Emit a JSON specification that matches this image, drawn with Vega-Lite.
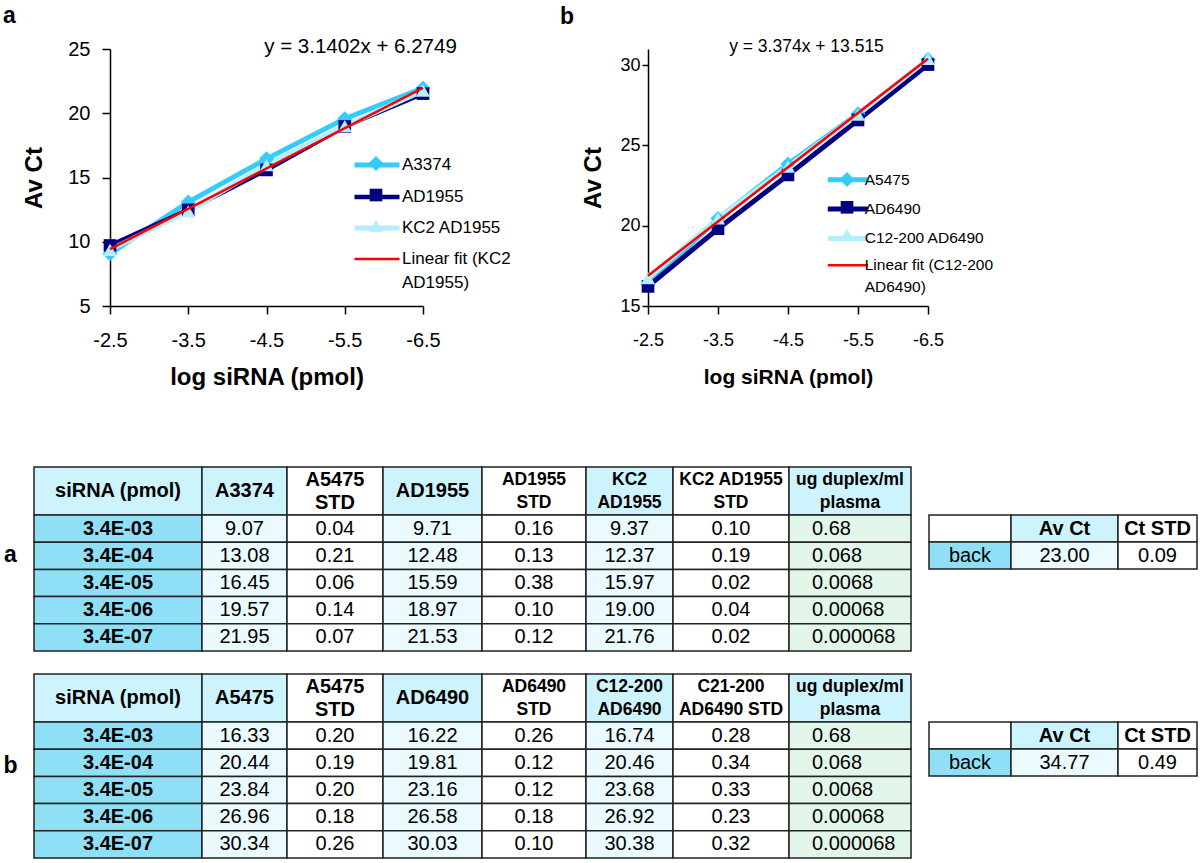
{
"$schema": "https://vega.github.io/schema/vega-lite/v6.json",
"background": "white",
"padding": {"left": 2, "top": 5, "right": 2, "bottom": 2},
"config": {"view": {"stroke": null}, "axis": {"labelColor": "black", "titleColor": "black", "domainColor": "black", "tickColor": "black", "grid": false, "domainWidth": 1.5, "tickWidth": 1.5}},
"datasets": {
 "cA": [
  {"x": -2.5, "series": "A3374", "ct": 9.07}, {"x": -3.5, "series": "A3374", "ct": 13.08}, {"x": -4.5, "series": "A3374", "ct": 16.45}, {"x": -5.5, "series": "A3374", "ct": 19.57}, {"x": -6.5, "series": "A3374", "ct": 21.95},
  {"x": -2.5, "series": "AD1955", "ct": 9.71}, {"x": -3.5, "series": "AD1955", "ct": 12.48}, {"x": -4.5, "series": "AD1955", "ct": 15.59}, {"x": -5.5, "series": "AD1955", "ct": 18.97}, {"x": -6.5, "series": "AD1955", "ct": 21.53},
  {"x": -2.5, "series": "KC2 AD1955", "ct": 9.37}, {"x": -3.5, "series": "KC2 AD1955", "ct": 12.37}, {"x": -4.5, "series": "KC2 AD1955", "ct": 15.97}, {"x": -5.5, "series": "KC2 AD1955", "ct": 19.0}, {"x": -6.5, "series": "KC2 AD1955", "ct": 21.76},
  {"x": -2.5, "series": "Linear fit (KC2 AD1955)", "ct": 9.42}, {"x": -6.5, "series": "Linear fit (KC2 AD1955)", "ct": 21.98}
 ],
 "cB": [
  {"x": -2.5, "series": "A5475", "ct": 16.33}, {"x": -3.5, "series": "A5475", "ct": 20.44}, {"x": -4.5, "series": "A5475", "ct": 23.84}, {"x": -5.5, "series": "A5475", "ct": 26.96}, {"x": -6.5, "series": "A5475", "ct": 30.34},
  {"x": -2.5, "series": "AD6490", "ct": 16.22}, {"x": -3.5, "series": "AD6490", "ct": 19.81}, {"x": -4.5, "series": "AD6490", "ct": 23.16}, {"x": -5.5, "series": "AD6490", "ct": 26.58}, {"x": -6.5, "series": "AD6490", "ct": 30.03},
  {"x": -2.5, "series": "C12-200 AD6490", "ct": 16.74}, {"x": -3.5, "series": "C12-200 AD6490", "ct": 20.46}, {"x": -4.5, "series": "C12-200 AD6490", "ct": 23.68}, {"x": -5.5, "series": "C12-200 AD6490", "ct": 26.92}, {"x": -6.5, "series": "C12-200 AD6490", "ct": 30.38},
  {"x": -2.5, "series": "Linear fit (C12-200 AD6490)", "ct": 16.89}, {"x": -6.5, "series": "Linear fit (C12-200 AD6490)", "ct": 30.39}
 ],
 "tA": [
  {"s": "3.4E-03", "v1": "9.07", "v2": "0.04", "v3": "9.71", "v4": "0.16", "v5": "9.37", "v6": "0.10", "v7": "0.68"},
  {"s": "3.4E-04", "v1": "13.08", "v2": "0.21", "v3": "12.48", "v4": "0.13", "v5": "12.37", "v6": "0.19", "v7": "0.068"},
  {"s": "3.4E-05", "v1": "16.45", "v2": "0.06", "v3": "15.59", "v4": "0.38", "v5": "15.97", "v6": "0.02", "v7": "0.0068"},
  {"s": "3.4E-06", "v1": "19.57", "v2": "0.14", "v3": "18.97", "v4": "0.10", "v5": "19.00", "v6": "0.04", "v7": "0.00068"},
  {"s": "3.4E-07", "v1": "21.95", "v2": "0.07", "v3": "21.53", "v4": "0.12", "v5": "21.76", "v6": "0.02", "v7": "0.000068"}
 ],
 "tB": [
  {"s": "3.4E-03", "v1": "16.33", "v2": "0.20", "v3": "16.22", "v4": "0.26", "v5": "16.74", "v6": "0.28", "v7": "0.68"},
  {"s": "3.4E-04", "v1": "20.44", "v2": "0.19", "v3": "19.81", "v4": "0.12", "v5": "20.46", "v6": "0.34", "v7": "0.068"},
  {"s": "3.4E-05", "v1": "23.84", "v2": "0.20", "v3": "23.16", "v4": "0.12", "v5": "23.68", "v6": "0.33", "v7": "0.0068"},
  {"s": "3.4E-06", "v1": "26.96", "v2": "0.18", "v3": "26.58", "v4": "0.18", "v5": "26.92", "v6": "0.23", "v7": "0.00068"},
  {"s": "3.4E-07", "v1": "30.34", "v2": "0.26", "v3": "30.03", "v4": "0.10", "v5": "30.38", "v6": "0.32", "v7": "0.000068"}
 ],
 "sA": [{"r": "back", "av": "23.00", "sd": "0.09"}],
 "sB": [{"r": "back", "av": "34.77", "sd": "0.49"}]
},
"spacing": 77,
"vconcat": [
 {"hconcat": [
  {"width": 1, "height": 1, "data": {"values": [{"t": ""}]}, "mark": {"type": "text"}, "encoding": {"text": {"field": "t", "type": "nominal"}}},
  {"hconcat": [
  {"width": 313, "height": 257,
   "title": {"text": "a", "anchor": "start", "frame": "group", "dx": -107, "dy": 22, "offset": 12, "baseline": "alphabetic", "font": "Liberation Sans, Arial, sans-serif", "fontSize": 23, "fontWeight": "bold", "color": "black"},
   "data": {"name": "cA"},
   "resolve": {"axis": {"x": "independent"}},
   "encoding": {
    "y": {"field": "ct", "type": "quantitative", "scale": {"domain": [5, 25], "nice": false, "zero": false},
          "axis": {"values": [5, 10, 15, 20, 25], "labelExpr": "'' + datum.value", "title": "Av Ct", "titleFont": "Liberation Sans, Arial, sans-serif", "titleFontSize": 24, "titleFontWeight": "bold", "labelFont": "Liberation Sans, Arial, sans-serif", "labelFontSize": 20, "tickSize": 8, "labelPadding": 12, "titlePadding": 21, "labelFlush": false}}
   },
   "layer": [
    {"transform": [{"filter": "datum.series != 'Linear fit (KC2 AD1955)'"}],
     "mark": {"type": "line"},
     "encoding": {
      "x": {"field": "x", "type": "quantitative", "scale": {"domain": [-6.5, -2.5], "reverse": true, "nice": false, "zero": false},
            "axis": {"values": [-2.5, -3.5, -4.5, -5.5, -6.5], "labelExpr": "'' + datum.value", "title": "log siRNA (pmol)", "titleFont": "Liberation Sans, Arial, sans-serif", "titleFontSize": 24, "titleFontWeight": "bold", "labelFont": "Liberation Sans, Arial, sans-serif", "labelFontSize": 20, "tickSize": 8, "labelPadding": 16, "titlePadding": 15, "labelFlush": false}},
      "color": {"field": "series", "type": "nominal", "scale": {"domain": ["A3374", "AD1955", "KC2 AD1955", "Linear fit (KC2 AD1955)"], "range": ["#33ccff", "#000080", "#b3eefa", "#ff0000"]},
        "legend": {"orient": "none", "legendX": 257, "legendY": 106, "title": null, "padding": 0, "symbolType": "M-3,0L3,0", "symbolSize": 225, "labelFont": "Liberation Sans, Arial, sans-serif", "labelFontSize": 17, "labelColor": "black", "labelOffset": 15, "rowPadding": 12, "labelLimit": 300, "labelExpr": "datum.label == 'Linear fit (KC2 AD1955)' ? ['Linear fit (KC2', 'AD1955)'] : datum.label", "encode": {"labels": {"update": {"lineHeight": {"value": 24}}}}}},
      "strokeWidth": {"field": "series", "type": "nominal", "scale": {"type": "ordinal", "domain": ["A3374", "AD1955", "KC2 AD1955", "Linear fit (KC2 AD1955)"], "range": [5, 4.5, 5, 2.5]},
        "legend": {"orient": "none", "legendX": 257, "legendY": 106, "title": null, "padding": 0, "symbolType": "M-3,0L3,0", "symbolSize": 225, "labelFont": "Liberation Sans, Arial, sans-serif", "labelFontSize": 17, "labelColor": "black", "labelOffset": 15, "rowPadding": 12, "labelLimit": 300, "labelExpr": "datum.label == 'Linear fit (KC2 AD1955)' ? ['Linear fit (KC2', 'AD1955)'] : datum.label", "encode": {"labels": {"update": {"lineHeight": {"value": 24}}}}}}
     }},
    {"mark": {"type": "point", "filled": true, "opacity": 1, "strokeWidth": 0},
     "encoding": {
      "x": {"field": "x", "type": "quantitative", "scale": {"domain": [-6.5, -2.5], "reverse": true, "nice": false, "zero": false}, "axis": null},
      "shape": {"field": "series", "type": "nominal", "scale": {"range": ["diamond", "square", "triangle-up", "circle"]},
        "legend": {"orient": "none", "legendX": 258, "legendY": 106.5, "title": null, "padding": 0, "symbolStrokeWidth": 0, "symbolOpacity": 1, "labelFontSize": 1, "labelOpacity": 0, "labelOffset": 0, "rowPadding": 17, "labelExpr": "''"}},
      "fill": {"field": "series", "type": "nominal", "scale": {"range": ["#33ccff", "#000080", "#b3eefa", "transparent"]},
        "legend": {"orient": "none", "legendX": 258, "legendY": 106.5, "title": null, "padding": 0, "symbolStrokeWidth": 0, "symbolOpacity": 1, "labelFontSize": 1, "labelOpacity": 0, "labelOffset": 0, "rowPadding": 17, "labelExpr": "''"}},
      "size": {"field": "series", "type": "nominal", "scale": {"type": "ordinal", "range": [230, 160, 200, 10]},
        "legend": {"orient": "none", "legendX": 258, "legendY": 106.5, "title": null, "padding": 0, "symbolStrokeWidth": 0, "symbolOpacity": 1, "labelFontSize": 1, "labelOpacity": 0, "labelOffset": 0, "rowPadding": 17, "labelExpr": "''"}}
     }},
    {"transform": [{"filter": "datum.series == 'Linear fit (KC2 AD1955)'"}],
     "mark": {"type": "line"},
     "encoding": {
      "x": {"field": "x", "type": "quantitative", "scale": {"domain": [-6.5, -2.5], "reverse": true, "nice": false, "zero": false},
            "axis": {"orient": "top", "title": "y = 3.1402x + 6.2749", "labels": false, "ticks": false, "domain": false, "grid": false, "titleFont": "Liberation Sans, Arial, sans-serif", "titleFontSize": 20.5, "titleFontWeight": "normal", "titleX": 250, "titleY": -3, "titleAlign": "center", "titleBaseline": "middle", "titleAngle": 0}},
      "color": {"field": "series", "type": "nominal", "scale": {"domain": ["A3374", "AD1955", "KC2 AD1955", "Linear fit (KC2 AD1955)"], "range": ["#33ccff", "#000080", "#b3eefa", "#ff0000"]}},
      "strokeWidth": {"field": "series", "type": "nominal", "scale": {"type": "ordinal", "domain": ["A3374", "AD1955", "KC2 AD1955", "Linear fit (KC2 AD1955)"], "range": [5, 4.5, 5, 2.5]}}
     }}
   ]},
  {"width": 280, "height": 257,
   "title": {"text": "b", "anchor": "start", "frame": "group", "dx": -88, "dy": 22, "offset": 12, "baseline": "alphabetic", "font": "Liberation Sans, Arial, sans-serif", "fontSize": 23, "fontWeight": "bold", "color": "black"},
   "data": {"name": "cB"},
   "resolve": {"axis": {"x": "independent"}},
   "encoding": {
    "y": {"field": "ct", "type": "quantitative", "scale": {"domain": [15, 31], "nice": false, "zero": false},
          "axis": {"values": [15, 20, 25, 30], "labelExpr": "'' + datum.value", "title": "Av Ct", "titleFont": "Liberation Sans, Arial, sans-serif", "titleFontSize": 24, "titleFontWeight": "bold", "labelFont": "Liberation Sans, Arial, sans-serif", "labelFontSize": 18, "tickSize": 6, "labelPadding": 2, "titlePadding": 14, "labelFlush": false}}
   },
   "layer": [
    {"transform": [{"filter": "datum.series != 'Linear fit (C12-200 AD6490)'"}],
     "mark": {"type": "line"},
     "encoding": {
      "x": {"field": "x", "type": "quantitative", "scale": {"domain": [-6.5, -2.5], "reverse": true, "nice": false, "zero": false},
            "axis": {"values": [-2.5, -3.5, -4.5, -5.5, -6.5], "labelExpr": "'' + datum.value", "title": "log siRNA (pmol)", "titleFont": "Liberation Sans, Arial, sans-serif", "titleFontSize": 21, "titleFontWeight": "bold", "labelFont": "Liberation Sans, Arial, sans-serif", "labelFontSize": 18, "tickSize": 8, "labelPadding": 17, "titlePadding": 17, "labelFlush": false}},
      "color": {"field": "series", "type": "nominal", "scale": {"domain": ["A5475", "AD6490", "C12-200 AD6490", "Linear fit (C12-200 AD6490)"], "range": ["#33ccff", "#000080", "#b3eefa", "#ff0000"]},
        "legend": {"orient": "none", "legendX": 190.3, "legendY": 121.3, "title": null, "padding": 0, "symbolType": "M-3,0L3,0", "symbolSize": 178, "labelFont": "Liberation Sans, Arial, sans-serif", "labelFontSize": 15.5, "labelColor": "black", "labelOffset": 7.4, "rowPadding": 8.3, "labelLimit": 300, "labelExpr": "datum.label == 'Linear fit (C12-200 AD6490)' ? ['Linear fit (C12-200', 'AD6490)'] : datum.label", "encode": {"labels": {"update": {"lineHeight": {"value": 22}}}}}},
      "strokeWidth": {"field": "series", "type": "nominal", "scale": {"type": "ordinal", "domain": ["A5475", "AD6490", "C12-200 AD6490", "Linear fit (C12-200 AD6490)"], "range": [5, 5, 5, 2.5]},
        "legend": {"orient": "none", "legendX": 190.3, "legendY": 121.3, "title": null, "padding": 0, "symbolType": "M-3,0L3,0", "symbolSize": 178, "labelFont": "Liberation Sans, Arial, sans-serif", "labelFontSize": 15.5, "labelColor": "black", "labelOffset": 7.4, "rowPadding": 8.3, "labelLimit": 300, "labelExpr": "datum.label == 'Linear fit (C12-200 AD6490)' ? ['Linear fit (C12-200', 'AD6490)'] : datum.label", "encode": {"labels": {"update": {"lineHeight": {"value": 22}}}}}}
     }},
    {"mark": {"type": "point", "filled": true, "opacity": 1, "strokeWidth": 0},
     "encoding": {
      "x": {"field": "x", "type": "quantitative", "scale": {"domain": [-6.5, -2.5], "reverse": true, "nice": false, "zero": false}, "axis": null},
      "shape": {"field": "series", "type": "nominal", "scale": {"range": ["diamond", "square", "triangle-up", "circle"]},
        "legend": {"orient": "none", "legendX": 191, "legendY": 122.5, "title": null, "padding": 0, "symbolStrokeWidth": 0, "symbolOpacity": 1, "labelFontSize": 1, "labelOpacity": 0, "labelOffset": 0, "rowPadding": 13.3, "labelExpr": "''"}},
      "fill": {"field": "series", "type": "nominal", "scale": {"range": ["#33ccff", "#000080", "#b3eefa", "transparent"]},
        "legend": {"orient": "none", "legendX": 191, "legendY": 122.5, "title": null, "padding": 0, "symbolStrokeWidth": 0, "symbolOpacity": 1, "labelFontSize": 1, "labelOpacity": 0, "labelOffset": 0, "rowPadding": 13.3, "labelExpr": "''"}},
      "size": {"field": "series", "type": "nominal", "scale": {"type": "ordinal", "range": [230, 160, 200, 10]},
        "legend": {"orient": "none", "legendX": 191, "legendY": 122.5, "title": null, "padding": 0, "symbolStrokeWidth": 0, "symbolOpacity": 1, "labelFontSize": 1, "labelOpacity": 0, "labelOffset": 0, "rowPadding": 13.3, "labelExpr": "''"}}
     }},
    {"transform": [{"filter": "datum.series == 'Linear fit (C12-200 AD6490)'"}],
     "mark": {"type": "line"},
     "encoding": {
      "x": {"field": "x", "type": "quantitative", "scale": {"domain": [-6.5, -2.5], "reverse": true, "nice": false, "zero": false},
            "axis": {"orient": "top", "title": "y = 3.374x + 13.515", "labels": false, "ticks": false, "domain": false, "grid": false, "titleFont": "Liberation Sans, Arial, sans-serif", "titleFontSize": 17.5, "titleFontWeight": "normal", "titleX": 158, "titleY": -3, "titleAlign": "center", "titleBaseline": "middle", "titleAngle": 0}},
      "color": {"field": "series", "type": "nominal", "scale": {"domain": ["A5475", "AD6490", "C12-200 AD6490", "Linear fit (C12-200 AD6490)"], "range": ["#33ccff", "#000080", "#b3eefa", "#ff0000"]}},
      "strokeWidth": {"field": "series", "type": "nominal", "scale": {"type": "ordinal", "domain": ["A5475", "AD6490", "C12-200 AD6490", "Linear fit (C12-200 AD6490)"], "range": [5, 5, 5, 2.5]}}
     }}
   ]}
  ], "spacing": 225, "bounds": "flush",
  "resolve": {"scale": {"color": "independent", "strokeWidth": "independent", "shape": "independent", "fill": "independent", "size": "independent"}, "legend": {"color": "independent", "strokeWidth": "independent", "shape": "independent", "fill": "independent", "size": "independent"}}}
 ], "spacing": 75, "bounds": "flush",
 "resolve": {"scale": {"color": "independent", "strokeWidth": "independent", "shape": "independent", "fill": "independent", "size": "independent"}, "legend": {"color": "independent", "strokeWidth": "independent", "shape": "independent", "fill": "independent", "size": "independent"}}},
 {"vconcat": [
  {"hconcat": [
   {"concat": [
     {"width": 168, "height": 48, "view": {"fill": "#cdf3fd", "stroke": "#222", "strokeWidth": 1.5}, "data": {"values": [{"t": "siRNA (pmol)"}]}, "mark": {"type": "text", "font": "Liberation Sans, Arial, sans-serif", "fontSize": 20, "fontWeight": "bold"}, "encoding": {"text": {"field": "t", "type": "nominal"}}},
     {"width": 85, "height": 48, "view": {"fill": "#cdf3fd", "stroke": "#222", "strokeWidth": 1.5}, "data": {"values": [{"t": "A3374"}]}, "mark": {"type": "text", "font": "Liberation Sans, Arial, sans-serif", "fontSize": 20, "fontWeight": "bold"}, "encoding": {"text": {"field": "t", "type": "nominal"}}},
     {"width": 96, "height": 48, "view": {"fill": "white", "stroke": "#222", "strokeWidth": 1.5}, "data": {"values": [{"t": "A5475\nSTD"}]}, "mark": {"type": "text", "font": "Liberation Sans, Arial, sans-serif", "fontSize": 20, "fontWeight": "bold", "lineBreak": "\n", "lineHeight": 23, "dy": -11.5}, "encoding": {"text": {"field": "t", "type": "nominal"}}},
     {"width": 99, "height": 48, "view": {"fill": "#cdf3fd", "stroke": "#222", "strokeWidth": 1.5}, "data": {"values": [{"t": "AD1955"}]}, "mark": {"type": "text", "font": "Liberation Sans, Arial, sans-serif", "fontSize": 20, "fontWeight": "bold"}, "encoding": {"text": {"field": "t", "type": "nominal"}}},
     {"width": 104, "height": 48, "view": {"fill": "white", "stroke": "#222", "strokeWidth": 1.5}, "data": {"values": [{"t": "AD1955\nSTD"}]}, "mark": {"type": "text", "font": "Liberation Sans, Arial, sans-serif", "fontSize": 17.5, "fontWeight": "bold", "lineBreak": "\n", "lineHeight": 23, "dy": -11.5}, "encoding": {"text": {"field": "t", "type": "nominal"}}},
     {"width": 87, "height": 48, "view": {"fill": "#cdf3fd", "stroke": "#222", "strokeWidth": 1.5}, "data": {"values": [{"t": "KC2\nAD1955"}]}, "mark": {"type": "text", "font": "Liberation Sans, Arial, sans-serif", "fontSize": 17.5, "fontWeight": "bold", "lineBreak": "\n", "lineHeight": 23, "dy": -11.5}, "encoding": {"text": {"field": "t", "type": "nominal"}}},
     {"width": 116, "height": 48, "view": {"fill": "white", "stroke": "#222", "strokeWidth": 1.5}, "data": {"values": [{"t": "KC2 AD1955\nSTD"}]}, "mark": {"type": "text", "font": "Liberation Sans, Arial, sans-serif", "fontSize": 17.5, "fontWeight": "bold", "lineBreak": "\n", "lineHeight": 23, "dy": -11.5}, "encoding": {"text": {"field": "t", "type": "nominal"}}},
     {"width": 122, "height": 48, "view": {"fill": "#cdf3fd", "stroke": "#222", "strokeWidth": 1.5}, "data": {"values": [{"t": "ug duplex/ml\nplasma"}]}, "mark": {"type": "text", "font": "Liberation Sans, Arial, sans-serif", "fontSize": 17.5, "fontWeight": "bold", "lineBreak": "\n", "lineHeight": 23, "dy": -11.5}, "encoding": {"text": {"field": "t", "type": "nominal"}}},
     {"width": 168, "height": 136, "data": {"name": "tA"},
      "encoding": {"y": {"field": "s", "type": "ordinal", "sort": null, "axis": {"title": "a", "titleAngle": 0, "titleFont": "Liberation Sans, Arial, sans-serif", "titleFontSize": 23, "titleFontWeight": "bold", "titleColor": "black", "labels": false, "ticks": false, "domain": false, "grid": false, "titleX": -24, "titleY": 39, "titleAlign": "center", "titleBaseline": "middle"}}},
      "layer": [{"mark": {"type": "rect", "fill": "#8fe0f6", "stroke": "#222", "strokeWidth": 1.5}, "encoding": {}},
                {"mark": {"type": "text", "font": "Liberation Sans, Arial, sans-serif", "fontSize": 20, "fontWeight": "bold"}, "encoding": {"text": {"field": "s", "type": "nominal"}}}]},
     {"width": 85, "height": 136, "data": {"name": "tA"}, "encoding": {"y": {"field": "s", "type": "ordinal", "sort": null, "axis": null}},
      "layer": [{"mark": {"type": "rect", "fill": "#eafaff", "stroke": "#222", "strokeWidth": 1.5}, "encoding": {}},
                {"mark": {"type": "text", "font": "Liberation Sans, Arial, sans-serif", "fontSize": 20}, "encoding": {"text": {"field": "v1", "type": "nominal"}}}]},
     {"width": 96, "height": 136, "data": {"name": "tA"}, "encoding": {"y": {"field": "s", "type": "ordinal", "sort": null, "axis": null}},
      "layer": [{"mark": {"type": "rect", "fill": "white", "stroke": "#222", "strokeWidth": 1.5}, "encoding": {}},
                {"mark": {"type": "text", "font": "Liberation Sans, Arial, sans-serif", "fontSize": 20}, "encoding": {"text": {"field": "v2", "type": "nominal"}}}]},
     {"width": 99, "height": 136, "data": {"name": "tA"}, "encoding": {"y": {"field": "s", "type": "ordinal", "sort": null, "axis": null}},
      "layer": [{"mark": {"type": "rect", "fill": "#eafaff", "stroke": "#222", "strokeWidth": 1.5}, "encoding": {}},
                {"mark": {"type": "text", "font": "Liberation Sans, Arial, sans-serif", "fontSize": 20}, "encoding": {"text": {"field": "v3", "type": "nominal"}}}]},
     {"width": 104, "height": 136, "data": {"name": "tA"}, "encoding": {"y": {"field": "s", "type": "ordinal", "sort": null, "axis": null}},
      "layer": [{"mark": {"type": "rect", "fill": "white", "stroke": "#222", "strokeWidth": 1.5}, "encoding": {}},
                {"mark": {"type": "text", "font": "Liberation Sans, Arial, sans-serif", "fontSize": 20}, "encoding": {"text": {"field": "v4", "type": "nominal"}}}]},
     {"width": 87, "height": 136, "data": {"name": "tA"}, "encoding": {"y": {"field": "s", "type": "ordinal", "sort": null, "axis": null}},
      "layer": [{"mark": {"type": "rect", "fill": "#eafaff", "stroke": "#222", "strokeWidth": 1.5}, "encoding": {}},
                {"mark": {"type": "text", "font": "Liberation Sans, Arial, sans-serif", "fontSize": 20}, "encoding": {"text": {"field": "v5", "type": "nominal"}}}]},
     {"width": 116, "height": 136, "data": {"name": "tA"}, "encoding": {"y": {"field": "s", "type": "ordinal", "sort": null, "axis": null}},
      "layer": [{"mark": {"type": "rect", "fill": "white", "stroke": "#222", "strokeWidth": 1.5}, "encoding": {}},
                {"mark": {"type": "text", "font": "Liberation Sans, Arial, sans-serif", "fontSize": 20}, "encoding": {"text": {"field": "v6", "type": "nominal"}}}]},
     {"width": 122, "height": 136, "data": {"name": "tA"}, "encoding": {"y": {"field": "s", "type": "ordinal", "sort": null, "axis": null}},
      "layer": [{"mark": {"type": "rect", "fill": "#e3f6ea", "stroke": "#222", "strokeWidth": 1.5}, "encoding": {}},
                {"mark": {"type": "text", "font": "Liberation Sans, Arial, sans-serif", "fontSize": 20, "align": "left", "dx": -38}, "encoding": {"text": {"field": "v7", "type": "nominal"}}}]}
   ], "columns": 8, "spacing": 0, "bounds": "flush", "align": "each"},
   {"concat": [
     {"width": 82, "height": 48, "data": {"values": [{"t": ""}]}, "mark": {"type": "text"}, "encoding": {"text": {"field": "t", "type": "nominal"}}},
     {"width": 107, "height": 48, "data": {"values": [{"t": ""}]}, "mark": {"type": "text"}, "encoding": {"text": {"field": "t", "type": "nominal"}}},
     {"width": 79, "height": 48, "data": {"values": [{"t": ""}]}, "mark": {"type": "text"}, "encoding": {"text": {"field": "t", "type": "nominal"}}},
     {"width": 82, "height": 27, "view": {"fill": "white", "stroke": "#222", "strokeWidth": 1.5}, "data": {"values": [{"t": ""}]}, "mark": {"type": "text", "font": "Liberation Sans, Arial, sans-serif", "fontSize": 20, "fontWeight": "bold"}, "encoding": {"text": {"field": "t", "type": "nominal"}}},
     {"width": 107, "height": 27, "view": {"fill": "#cdf3fd", "stroke": "#222", "strokeWidth": 1.5}, "data": {"values": [{"t": "Av Ct"}]}, "mark": {"type": "text", "font": "Liberation Sans, Arial, sans-serif", "fontSize": 20, "fontWeight": "bold"}, "encoding": {"text": {"field": "t", "type": "nominal"}}},
     {"width": 79, "height": 27, "view": {"fill": "white", "stroke": "#222", "strokeWidth": 1.5}, "data": {"values": [{"t": "Ct STD"}]}, "mark": {"type": "text", "font": "Liberation Sans, Arial, sans-serif", "fontSize": 20, "fontWeight": "bold"}, "encoding": {"text": {"field": "t", "type": "nominal"}}},
     {"width": 82, "height": 27, "view": {"fill": "#8fe0f6", "stroke": "#222", "strokeWidth": 1.5}, "data": {"name": "sA"}, "mark": {"type": "text", "font": "Liberation Sans, Arial, sans-serif", "fontSize": 20}, "encoding": {"text": {"field": "r", "type": "nominal"}}},
     {"width": 107, "height": 27, "view": {"fill": "#eafaff", "stroke": "#222", "strokeWidth": 1.5}, "data": {"name": "sA"}, "mark": {"type": "text", "font": "Liberation Sans, Arial, sans-serif", "fontSize": 20}, "encoding": {"text": {"field": "av", "type": "nominal"}}},
     {"width": 79, "height": 27, "view": {"fill": "white", "stroke": "#222", "strokeWidth": 1.5}, "data": {"name": "sA"}, "mark": {"type": "text", "font": "Liberation Sans, Arial, sans-serif", "fontSize": 20}, "encoding": {"text": {"field": "sd", "type": "nominal"}}}
   ], "columns": 3, "spacing": 0, "bounds": "flush", "align": "each"}
  ], "spacing": 16},
  {"hconcat": [
   {"concat": [
     {"width": 168, "height": 48, "view": {"fill": "#cdf3fd", "stroke": "#222", "strokeWidth": 1.5}, "data": {"values": [{"t": "siRNA (pmol)"}]}, "mark": {"type": "text", "font": "Liberation Sans, Arial, sans-serif", "fontSize": 20, "fontWeight": "bold"}, "encoding": {"text": {"field": "t", "type": "nominal"}}},
     {"width": 85, "height": 48, "view": {"fill": "#cdf3fd", "stroke": "#222", "strokeWidth": 1.5}, "data": {"values": [{"t": "A5475"}]}, "mark": {"type": "text", "font": "Liberation Sans, Arial, sans-serif", "fontSize": 20, "fontWeight": "bold"}, "encoding": {"text": {"field": "t", "type": "nominal"}}},
     {"width": 96, "height": 48, "view": {"fill": "white", "stroke": "#222", "strokeWidth": 1.5}, "data": {"values": [{"t": "A5475\nSTD"}]}, "mark": {"type": "text", "font": "Liberation Sans, Arial, sans-serif", "fontSize": 20, "fontWeight": "bold", "lineBreak": "\n", "lineHeight": 23, "dy": -11.5}, "encoding": {"text": {"field": "t", "type": "nominal"}}},
     {"width": 99, "height": 48, "view": {"fill": "#cdf3fd", "stroke": "#222", "strokeWidth": 1.5}, "data": {"values": [{"t": "AD6490"}]}, "mark": {"type": "text", "font": "Liberation Sans, Arial, sans-serif", "fontSize": 20, "fontWeight": "bold"}, "encoding": {"text": {"field": "t", "type": "nominal"}}},
     {"width": 104, "height": 48, "view": {"fill": "white", "stroke": "#222", "strokeWidth": 1.5}, "data": {"values": [{"t": "AD6490\nSTD"}]}, "mark": {"type": "text", "font": "Liberation Sans, Arial, sans-serif", "fontSize": 17.5, "fontWeight": "bold", "lineBreak": "\n", "lineHeight": 23, "dy": -11.5}, "encoding": {"text": {"field": "t", "type": "nominal"}}},
     {"width": 87, "height": 48, "view": {"fill": "#cdf3fd", "stroke": "#222", "strokeWidth": 1.5}, "data": {"values": [{"t": "C12-200\nAD6490"}]}, "mark": {"type": "text", "font": "Liberation Sans, Arial, sans-serif", "fontSize": 17.5, "fontWeight": "bold", "lineBreak": "\n", "lineHeight": 23, "dy": -11.5}, "encoding": {"text": {"field": "t", "type": "nominal"}}},
     {"width": 116, "height": 48, "view": {"fill": "white", "stroke": "#222", "strokeWidth": 1.5}, "data": {"values": [{"t": "C21-200\nAD6490 STD"}]}, "mark": {"type": "text", "font": "Liberation Sans, Arial, sans-serif", "fontSize": 17.5, "fontWeight": "bold", "lineBreak": "\n", "lineHeight": 23, "dy": -11.5}, "encoding": {"text": {"field": "t", "type": "nominal"}}},
     {"width": 122, "height": 48, "view": {"fill": "#cdf3fd", "stroke": "#222", "strokeWidth": 1.5}, "data": {"values": [{"t": "ug duplex/ml\nplasma"}]}, "mark": {"type": "text", "font": "Liberation Sans, Arial, sans-serif", "fontSize": 17.5, "fontWeight": "bold", "lineBreak": "\n", "lineHeight": 23, "dy": -11.5}, "encoding": {"text": {"field": "t", "type": "nominal"}}},
     {"width": 168, "height": 136, "data": {"name": "tB"},
      "encoding": {"y": {"field": "s", "type": "ordinal", "sort": null, "axis": {"title": "b", "titleAngle": 0, "titleFont": "Liberation Sans, Arial, sans-serif", "titleFontSize": 23, "titleFontWeight": "bold", "titleColor": "black", "labels": false, "ticks": false, "domain": false, "grid": false, "titleX": -24, "titleY": 43, "titleAlign": "center", "titleBaseline": "middle"}}},
      "layer": [{"mark": {"type": "rect", "fill": "#8fe0f6", "stroke": "#222", "strokeWidth": 1.5}, "encoding": {}},
                {"mark": {"type": "text", "font": "Liberation Sans, Arial, sans-serif", "fontSize": 20, "fontWeight": "bold"}, "encoding": {"text": {"field": "s", "type": "nominal"}}}]},
     {"width": 85, "height": 136, "data": {"name": "tB"}, "encoding": {"y": {"field": "s", "type": "ordinal", "sort": null, "axis": null}},
      "layer": [{"mark": {"type": "rect", "fill": "#eafaff", "stroke": "#222", "strokeWidth": 1.5}, "encoding": {}},
                {"mark": {"type": "text", "font": "Liberation Sans, Arial, sans-serif", "fontSize": 20}, "encoding": {"text": {"field": "v1", "type": "nominal"}}}]},
     {"width": 96, "height": 136, "data": {"name": "tB"}, "encoding": {"y": {"field": "s", "type": "ordinal", "sort": null, "axis": null}},
      "layer": [{"mark": {"type": "rect", "fill": "white", "stroke": "#222", "strokeWidth": 1.5}, "encoding": {}},
                {"mark": {"type": "text", "font": "Liberation Sans, Arial, sans-serif", "fontSize": 20}, "encoding": {"text": {"field": "v2", "type": "nominal"}}}]},
     {"width": 99, "height": 136, "data": {"name": "tB"}, "encoding": {"y": {"field": "s", "type": "ordinal", "sort": null, "axis": null}},
      "layer": [{"mark": {"type": "rect", "fill": "#eafaff", "stroke": "#222", "strokeWidth": 1.5}, "encoding": {}},
                {"mark": {"type": "text", "font": "Liberation Sans, Arial, sans-serif", "fontSize": 20}, "encoding": {"text": {"field": "v3", "type": "nominal"}}}]},
     {"width": 104, "height": 136, "data": {"name": "tB"}, "encoding": {"y": {"field": "s", "type": "ordinal", "sort": null, "axis": null}},
      "layer": [{"mark": {"type": "rect", "fill": "white", "stroke": "#222", "strokeWidth": 1.5}, "encoding": {}},
                {"mark": {"type": "text", "font": "Liberation Sans, Arial, sans-serif", "fontSize": 20}, "encoding": {"text": {"field": "v4", "type": "nominal"}}}]},
     {"width": 87, "height": 136, "data": {"name": "tB"}, "encoding": {"y": {"field": "s", "type": "ordinal", "sort": null, "axis": null}},
      "layer": [{"mark": {"type": "rect", "fill": "#eafaff", "stroke": "#222", "strokeWidth": 1.5}, "encoding": {}},
                {"mark": {"type": "text", "font": "Liberation Sans, Arial, sans-serif", "fontSize": 20}, "encoding": {"text": {"field": "v5", "type": "nominal"}}}]},
     {"width": 116, "height": 136, "data": {"name": "tB"}, "encoding": {"y": {"field": "s", "type": "ordinal", "sort": null, "axis": null}},
      "layer": [{"mark": {"type": "rect", "fill": "white", "stroke": "#222", "strokeWidth": 1.5}, "encoding": {}},
                {"mark": {"type": "text", "font": "Liberation Sans, Arial, sans-serif", "fontSize": 20}, "encoding": {"text": {"field": "v6", "type": "nominal"}}}]},
     {"width": 122, "height": 136, "data": {"name": "tB"}, "encoding": {"y": {"field": "s", "type": "ordinal", "sort": null, "axis": null}},
      "layer": [{"mark": {"type": "rect", "fill": "#e3f6ea", "stroke": "#222", "strokeWidth": 1.5}, "encoding": {}},
                {"mark": {"type": "text", "font": "Liberation Sans, Arial, sans-serif", "fontSize": 20, "align": "left", "dx": -38}, "encoding": {"text": {"field": "v7", "type": "nominal"}}}]}
   ], "columns": 8, "spacing": 0, "bounds": "flush", "align": "each"},
   {"concat": [
     {"width": 82, "height": 48, "data": {"values": [{"t": ""}]}, "mark": {"type": "text"}, "encoding": {"text": {"field": "t", "type": "nominal"}}},
     {"width": 107, "height": 48, "data": {"values": [{"t": ""}]}, "mark": {"type": "text"}, "encoding": {"text": {"field": "t", "type": "nominal"}}},
     {"width": 79, "height": 48, "data": {"values": [{"t": ""}]}, "mark": {"type": "text"}, "encoding": {"text": {"field": "t", "type": "nominal"}}},
     {"width": 82, "height": 27, "view": {"fill": "white", "stroke": "#222", "strokeWidth": 1.5}, "data": {"values": [{"t": ""}]}, "mark": {"type": "text", "font": "Liberation Sans, Arial, sans-serif", "fontSize": 20, "fontWeight": "bold"}, "encoding": {"text": {"field": "t", "type": "nominal"}}},
     {"width": 107, "height": 27, "view": {"fill": "#cdf3fd", "stroke": "#222", "strokeWidth": 1.5}, "data": {"values": [{"t": "Av Ct"}]}, "mark": {"type": "text", "font": "Liberation Sans, Arial, sans-serif", "fontSize": 20, "fontWeight": "bold"}, "encoding": {"text": {"field": "t", "type": "nominal"}}},
     {"width": 79, "height": 27, "view": {"fill": "white", "stroke": "#222", "strokeWidth": 1.5}, "data": {"values": [{"t": "Ct STD"}]}, "mark": {"type": "text", "font": "Liberation Sans, Arial, sans-serif", "fontSize": 20, "fontWeight": "bold"}, "encoding": {"text": {"field": "t", "type": "nominal"}}},
     {"width": 82, "height": 27, "view": {"fill": "#8fe0f6", "stroke": "#222", "strokeWidth": 1.5}, "data": {"name": "sB"}, "mark": {"type": "text", "font": "Liberation Sans, Arial, sans-serif", "fontSize": 20}, "encoding": {"text": {"field": "r", "type": "nominal"}}},
     {"width": 107, "height": 27, "view": {"fill": "#eafaff", "stroke": "#222", "strokeWidth": 1.5}, "data": {"name": "sB"}, "mark": {"type": "text", "font": "Liberation Sans, Arial, sans-serif", "fontSize": 20}, "encoding": {"text": {"field": "av", "type": "nominal"}}},
     {"width": 79, "height": 27, "view": {"fill": "white", "stroke": "#222", "strokeWidth": 1.5}, "data": {"name": "sB"}, "mark": {"type": "text", "font": "Liberation Sans, Arial, sans-serif", "fontSize": 20}, "encoding": {"text": {"field": "sd", "type": "nominal"}}}
   ], "columns": 3, "spacing": 0, "bounds": "flush", "align": "each"}
  ], "spacing": 16}
 ], "spacing": 21}
]
}
